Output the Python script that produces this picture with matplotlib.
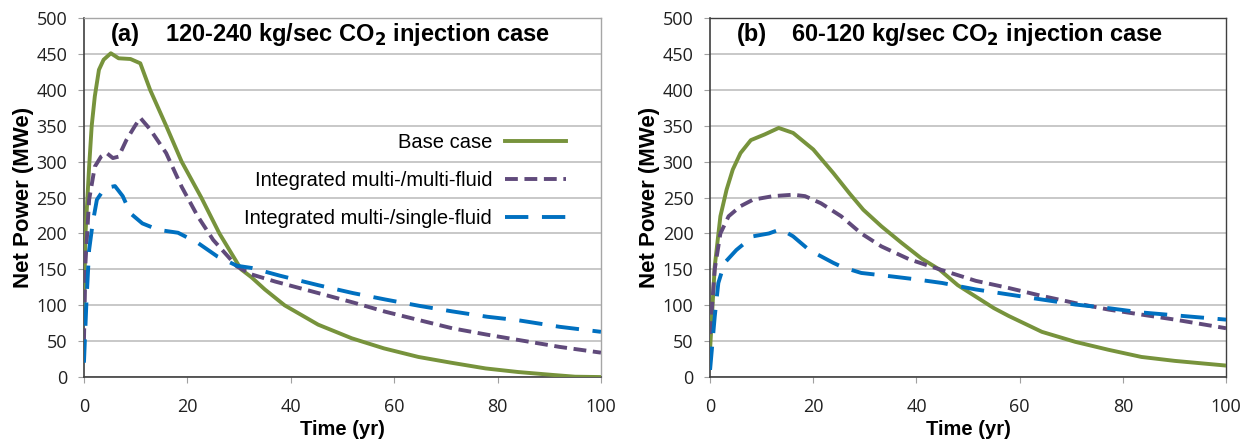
import numpy as np
import matplotlib.pyplot as plt
from matplotlib.lines import Line2D

# panel (a): 120-240 kg/sec CO2 injection
a_base_t = [0, 0.3, 1, 1.5, 2.1, 2.9, 3.8, 5.2, 6.7, 9, 10.9, 12.8, 15.9, 18.9, 22.7, 26.2,
            30.4, 32.4, 35, 38.8, 45.3, 51.8, 58, 64.7, 71, 77.7, 84, 90.6, 95, 100]
a_base_p = [100, 200, 293, 350, 391, 428, 442, 451, 444, 443, 437, 400, 350, 300, 250, 200,
            150, 139, 122, 100, 73, 54, 40, 28, 20, 12, 7, 3, 0.5, 0]
a_mm_t = [0, 0.3, 1, 2.1, 3.3, 4.4, 5.6, 6.7, 8.2, 9.8, 10.9, 12.8, 15.9, 18.9, 22, 25,
          29.6, 32.4, 37, 45.3, 52, 58.3, 65, 71.2, 78, 84.1, 92, 100]
a_mm_p = [50, 160, 247, 293, 307, 312, 305, 307, 330, 349, 361, 345, 312, 265, 224, 191,
          154, 143, 133, 117, 104, 91, 79, 68, 59, 51.6, 42, 34]
a_ms_t = [0, 0.5, 1, 1.7, 2.5, 4, 6, 7.5, 9, 11.3, 14.4, 18.2, 22, 25.8, 29.6, 32.4, 38,
          45.3, 52, 58.3, 65, 71.2, 78, 84.1, 92, 100]
a_ms_p = [20, 108, 177, 215, 247, 263, 266, 252, 228, 214, 205, 201, 187, 168, 155, 152, 141,
          128, 117, 108, 99, 91.5, 84, 79, 70, 63]

# panel (b): 60-120 kg/sec CO2 injection
b_base_t = [0, 0.9, 2, 3.2, 4.4, 5.9, 7.9, 10.6, 13.3, 16.1, 20, 23.9, 27, 29.7, 33.2,
            37.1, 41, 44.4, 48, 51.5, 55, 57.9, 64.3, 70.8, 77.2, 83.6, 90.1, 100]
b_base_p = [38, 154, 224, 261, 289, 312, 330, 338, 347, 340, 317, 284, 256, 233, 210,
            187, 165, 150, 128, 112, 96, 85, 63, 49, 38, 28, 22.5, 16]
b_mm_t = [0, 0.9, 2, 3.6, 5.9, 8.3, 12.2, 16.1, 18.4, 21.5, 25.4, 29.3, 33.2, 38.6,
          44.9, 51.5, 57.9, 64.3, 70.8, 77.2, 83.6, 90.1, 100]
b_mm_p = [60, 150, 200, 224, 238, 247, 252, 254, 252, 242, 224, 200, 182, 164,
          149, 134, 124, 113, 103, 94, 87, 80, 68]
b_ms_t = [0, 0.9, 1.6, 2.8, 5.1, 8.3, 11.4, 13.7, 16.1, 19.2, 23.9, 25.7, 29.3, 35.4,
          40, 45, 51.5, 57.9, 64.3, 70.8, 77.2, 83.6, 90.1, 100]
b_ms_p = [10, 84, 131, 159, 177, 196, 200, 206, 196, 177, 159, 153, 145, 140,
          136, 131, 122, 115, 108, 101, 96, 90, 86, 80]

green = "#77933C"
purple = "#604A7B"
blue = "#0070C0"
lw = 2.8
mm_dash = (3.3, 1.7)
ms_dash = (6, 3.5)

tick_font = ["Open Sans", "DejaVu Sans"]
bold_font = ["Liberation Sans", "DejaVu Sans"]

fig = plt.figure(figsize=(12.53, 4.41), dpi=100)
ax_a = fig.add_axes([0.067, 0.145, 0.4126, 0.814])
ax_b = fig.add_axes([0.5667, 0.145, 0.4118, 0.814])

panels = [
    (ax_a, a_base_t, a_base_p, a_mm_t, a_mm_p, a_ms_t, a_ms_p,
     "(a)", "120-240 kg/sec CO$_\\mathbf{2}$ injection case", "#A6A6A6"),
    (ax_b, b_base_t, b_base_p, b_mm_t, b_mm_p, b_ms_t, b_ms_p,
     "(b)", "60-120 kg/sec CO$_\\mathbf{2}$ injection case", "#404040"),
]

for ax, bt, bp, mt, mp, st, sp, tag, title, frame in panels:
    ax.plot(bt, bp, color=green, lw=lw, solid_joinstyle="round", zorder=3)
    ax.plot(mt, mp, color=purple, lw=lw, dashes=mm_dash, zorder=3)
    ax.plot(st, sp, color=blue, lw=lw, dashes=ms_dash, zorder=3)
    ax.set_xlim(0, 100)
    ax.set_ylim(0, 500)
    ax.set_xticks(np.arange(0, 101, 20))
    ax.set_yticks(np.arange(0, 501, 50))
    ax.yaxis.grid(True, color="#BFBFBF", lw=1.2)
    ax.set_axisbelow(True)
    for s in ["left", "bottom"]:
        ax.spines[s].set_color("#404040")
        ax.spines[s].set_linewidth(1.2)
    for s in ["top", "right"]:
        ax.spines[s].set_color(frame)
        ax.spines[s].set_linewidth(1.0)
    ax.tick_params(direction="out", length=4, color="#A0A0A0", labelsize=13)
    ax.tick_params(axis="x", pad=11)
    ax.tick_params(axis="y", pad=8)
    for lab in ax.get_xticklabels() + ax.get_yticklabels():
        lab.set_family(tick_font)
        lab.set_color("#202020")
    ax.set_xlabel("Time (yr)", fontsize=14.5, fontweight="bold", family=bold_font, labelpad=3)
    ax.set_ylabel("Net Power (MWe)", fontsize=16, fontweight="bold", family=bold_font, labelpad=2)
    ax.text(0.052, 0.953, tag, transform=ax.transAxes, fontsize=17, fontweight="bold",
            family=bold_font, va="center", ha="left")
    ax.text(0.157, 0.953, title, transform=ax.transAxes, fontsize=17, fontweight="bold",
            family=bold_font, va="center", ha="left")

handles = [
    Line2D([], [], color=green, lw=lw),
    Line2D([], [], color=purple, lw=lw, dashes=mm_dash),
    Line2D([], [], color=blue, lw=lw, dashes=ms_dash),
]
labels = ["Base case", "Integrated multi-/multi-fluid", "Integrated multi-/single-fluid"]
ax_a.legend(handles, labels, loc="upper right", bbox_to_anchor=(0.967, 0.73),
            frameon=False, markerfirst=False, handlelength=3.0, handletextpad=0.65,
            labelspacing=0.95, prop={"family": bold_font, "size": 14.5}, alignment="right")

fig.savefig("out.png", dpi=100)
